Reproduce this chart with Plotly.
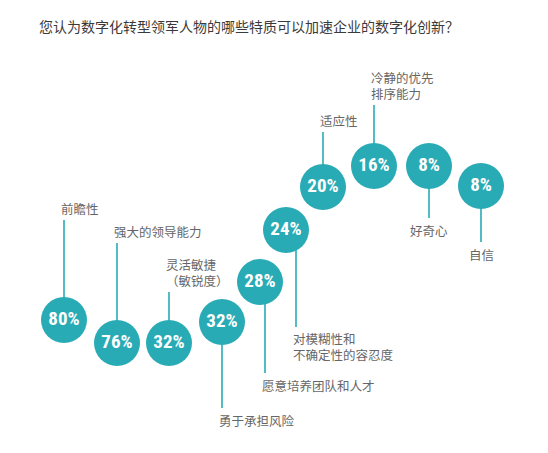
import plotly.graph_objects as go

# survey: 您认为数字化转型领军人物的哪些特质可以加速企业的数字化创新？
traits = ["前瞻性", "强大的领导能力", "灵活敏捷<br>（敏锐度）", "勇于承担风险",
          "愿意培养团队和人才", "对模糊性和<br>不确定性的容忍度", "适应性",
          "冷静的优先<br>排序能力", "好奇心", "自信"]
share = [80, 76, 32, 32, 28, 24, 20, 16, 8, 8]

# layout of the arc (page pixels)
cx = [64, 117, 169, 222, 260, 286, 323, 374, 429, 481]
cy = [320, 343, 343, 322, 282, 230, 187, 166, 166, 186]
stem_dx = [0, 0, 0, 0, 5, 10, 0, 0, 0, 0]
stem_len = [-100, -100, -51, 86, 91, 97, -55, -61, 52, 56]
centered = [False] * 8 + [True, True]

teal = "#29abb6"
title = "您认为数字化转型领军人物的哪些特质可以加速企业的数字化创新？"

fig = go.Figure()

sx, sy = [], []
for i in range(len(share)):
    x = cx[i] + stem_dx[i]
    sx += [x, x, None]
    sy += [cy[i], cy[i] + stem_len[i], None]
fig.add_trace(go.Scatter(x=sx, y=sy, mode="lines",
                         line=dict(color=teal, width=1.6),
                         hoverinfo="skip", showlegend=False))

fig.add_trace(go.Scatter(
    x=cx, y=cy, mode="markers+text",
    marker=dict(size=46, color=teal, line=dict(width=0)),
    text=[f"{v}%" for v in share], textposition="middle center",
    textfont=dict(family="Roboto Condensed, Open Sans Condensed",
                  size=19, color="white", weight="bold"),
    hoverinfo="skip", showlegend=False))

for i, lab in enumerate(traits):
    n = lab.count("<br>") + 1
    x = cx[i] + stem_dx[i]
    end = cy[i] + stem_len[i]
    if stem_len[i] < 0:
        mid = end - 12 - (n - 1) * 15 / 2
    else:
        mid = end + 12 + (n - 1) * 15 / 2
    fig.add_annotation(
        x=x if centered[i] else x - 5, y=mid, text=lab, showarrow=False,
        xanchor="center" if centered[i] else "left", yanchor="middle",
        align="left",
        font=dict(family="Noto Sans CJK SC", size=12.5, color="#666666"))

fig.add_annotation(x=37, y=26, text=title, showarrow=False,
                   xanchor="left", yanchor="middle",
                   font=dict(family="Noto Sans CJK SC", size=14, color="#3a3a3a"))

# the page body has an 8px margin, so the plot starts at (8, 8)
fig.update_xaxes(range=[8, 548], visible=False, fixedrange=True)
fig.update_yaxes(range=[453, 8], visible=False, fixedrange=True)
fig.update_layout(width=540, height=445, margin=dict(l=0, r=0, t=0, b=0),
                  plot_bgcolor="white", paper_bgcolor="white")

fig.write_html("out.html")
